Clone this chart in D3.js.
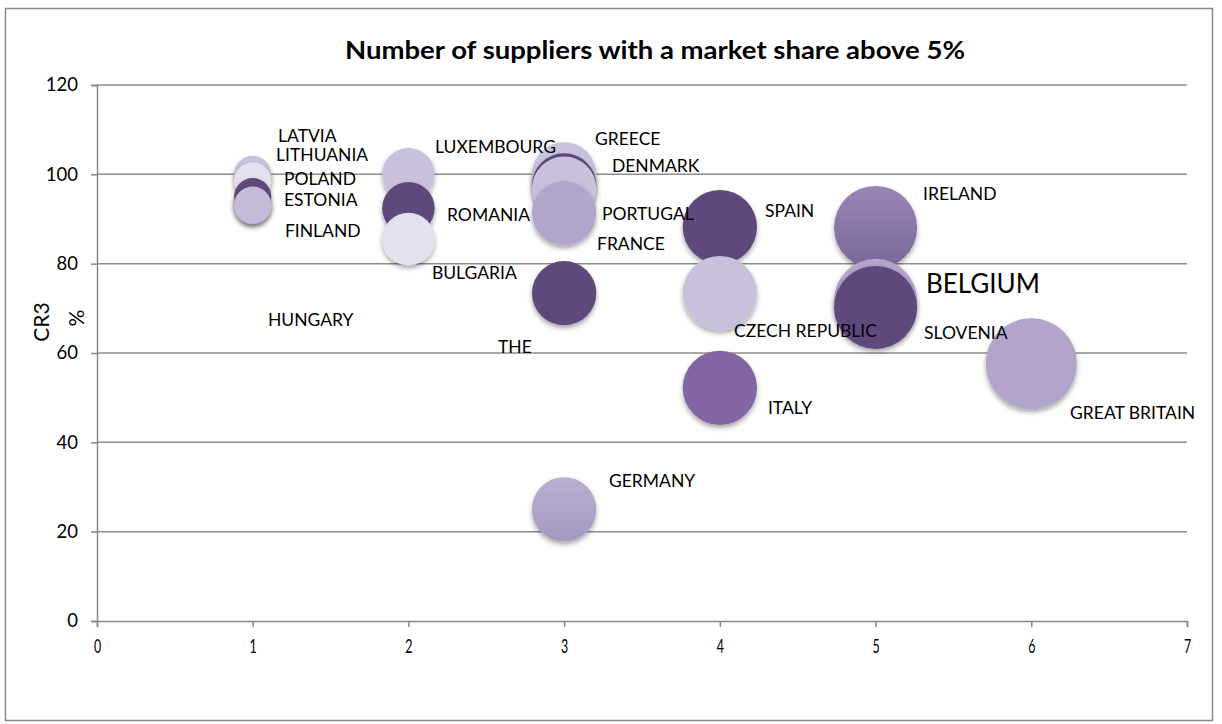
<!DOCTYPE html>
<html>
<head>
<meta charset="utf-8">
<script src="https://cdn.jsdelivr.net/npm/d3@7"></script>
<style>
  html, body { margin: 0; padding: 0; background: #fff; }
  svg { display: block; font-family: Lato, "Open Sans", sans-serif; }
</style>
</head>
<body>
<svg width="1222" height="724"></svg>
<script>
// data
const countries = ['LATVIA', 'LITHUANIA', 'POLAND', 'FINLAND', 'ESTONIA', 'HUNGARY',
  'LUXEMBOURG', 'ROMANIA', 'BULGARIA',
  'GREECE', 'DENMARK', 'FRANCE', 'PORTUGAL', 'THE', 'GERMANY',
  'SPAIN', 'CZECH REPUBLIC', 'ITALY',
  'IRELAND', 'BELGIUM', 'SLOVENIA', 'GREAT BRITAIN'];
const suppliers = [1, 1, 1, 1, 1, 1, 2, 2, 2, 3, 3, 3, 3, 3, 3, 4, 4, 4, 5, 5, 5, 6];
const cr3 = [100, 98.5, 95, 93, 93.1, 67, 100, 92.4, 85.5, 100, 97.5, 96.8, 91.3, 73.4, 25,
  88.2, 73.4, 52.2, 88.1, 71.8, 70.2, 57.6];
// bubble size = number of suppliers (Hungary has no bubble)
const bubbleSize = [1, 1, 1, 1, 1, 0, 2, 2, 2, 3, 3, 3, 3, 3, 3, 4, 4, 4, 5, 5, 5, 6];

// where the data labels sit, in axis units
const labelX = [1.163, 1.15, 1.201, 1.207, 1.201, 1.098, 2.171, 2.248, 2.151,
  3.198, 3.307, 3.211, 3.243, 2.575, 3.288, 4.29, 4.091, 4.309, 5.305, 5.324, 5.311, 6.249];
const labelY = [108.6, 104.3, 98.9, 87.3, 94.2, 67.4, 106.1, 90.9, 77.9,
  107.9, 101.9, 84.4, 91.1, 61.3, 31.3, 91.8, 64.9, 47.7, 95.6, 75.4, 64.5, 46.6];

const xTicks = [0, 1, 2, 3, 4, 5, 6, 7];
const yTicks = [0, 20, 40, 60, 80, 100, 120];

const fills = ['#c9c1dc', '#e4e0ee', '#5f4a7c', '#c5bbd8', '#c5bbd8', 'none',
  '#c9c1dc', '#5f4a7c', '#e4e0ee',
  '#cac2dd', '#5f4a7c', '#c9c1dc', '#b3a6cb', '#5f4a7c', 'url(#gGermany)',
  '#5f4a7c', '#c9c1dc', '#8166a3',
  'url(#gIreland)', '#b2a4ca', '#5f4a7c', '#b2a4ca'];

const svg = d3.select('svg');

const x = d3.scaleLinear().domain([0, 7]).range([97, 1187]);
const y = d3.scaleLinear().domain([0, 120]).range([621, 85]);
const r = d3.scaleSqrt().domain([0, 6]).range([0, 45.5]);

const defs = svg.append('defs');
const shadow = defs.append('filter').attr('id', 'shadow')
  .attr('x', '-30%').attr('y', '-30%').attr('width', '160%').attr('height', '170%');
shadow.append('feDropShadow')
  .attr('dx', 0).attr('dy', 3).attr('stdDeviation', 2.5)
  .attr('flood-color', '#000').attr('flood-opacity', 0.35);

function vGrad(id, top, bottom) {
  const g = defs.append('linearGradient').attr('id', id)
    .attr('x1', 0).attr('y1', 0).attr('x2', 0).attr('y2', 1);
  g.append('stop').attr('offset', '0%').attr('stop-color', top);
  g.append('stop').attr('offset', '100%').attr('stop-color', bottom);
}
vGrad('gIreland', '#9984b8', '#7a6798');
vGrad('gGermany', '#bab0d0', '#a597bf');

// outer frame
svg.append('rect')
  .attr('x', 5.5).attr('y', 8.5).attr('width', 1207).attr('height', 712)
  .attr('fill', 'none').attr('stroke', '#878787').attr('stroke-width', 1.5);

// title
svg.append('text')
  .attr('x', 655).attr('y', 59)
  .attr('text-anchor', 'middle')
  .attr('font-weight', 'bold').attr('font-size', '24px')
  .attr('textLength', 620).attr('lengthAdjust', 'spacingAndGlyphs')
  .attr('fill', '#000')
  .text('Number of suppliers with a market share above 5%');

// gridlines
svg.append('g').selectAll('line').data(yTicks.filter(d => d > 0))
  .enter().append('line')
  .attr('x1', x(0)).attr('x2', x(7))
  .attr('y1', d => y(d)).attr('y2', d => y(d))
  .attr('stroke', '#8c8c8c').attr('stroke-width', 1.5);

// axes
const yAxis = svg.append('g')
  .attr('transform', `translate(${x(0)},0)`)
  .call(d3.axisLeft(y).tickValues(yTicks).tickSize(6).tickPadding(13));
const xAxis = svg.append('g')
  .attr('transform', `translate(0,${y(0)})`)
  .call(d3.axisBottom(x).tickValues(xTicks).tickFormat(d3.format('d'))
    .tickSize(6).tickPadding(12));

[yAxis, xAxis].forEach(a => {
  a.attr('font-family', 'Lato, "Open Sans", sans-serif');
  a.select('.domain').attr('stroke', '#878787').attr('stroke-width', 1.5);
  a.selectAll('.tick line').attr('stroke', '#878787').attr('stroke-width', 1.5);
  a.selectAll('.tick text').attr('fill', '#000').attr('font-size', '18.5px');
});
// x tick labels are squeezed sideways in the original
xAxis.selectAll('.tick text')
  .attr('font-size', '20px')
  .attr('transform', 'scale(0.62,1)');

// y title: "CR3" and "%" as two rotated pieces
svg.append('text')
  .attr('transform', 'translate(42,322) rotate(-90)')
  .attr('text-anchor', 'middle').attr('dy', '0.35em')
  .attr('font-size', '21px').attr('fill', '#000')
  .text('CR3');
svg.append('text')
  .attr('transform', 'translate(77,318) rotate(-90)')
  .attr('text-anchor', 'middle').attr('dy', '0.35em')
  .attr('font-size', '21px').attr('fill', '#000')
  .text('%');

// bubbles, drawn in data order so later ones sit on top
const idx = d3.range(countries.length);
svg.append('g').selectAll('circle')
  .data(idx.filter(i => bubbleSize[i] > 0))
  .enter().append('circle')
  .attr('cx', i => x(suppliers[i]))
  .attr('cy', i => y(cr3[i]))
  .attr('r', i => r(bubbleSize[i]))
  .attr('fill', i => fills[i])
  .attr('filter', 'url(#shadow)');

// data labels
svg.append('g').selectAll('text')
  .data(idx)
  .enter().append('text')
  .attr('x', i => x(labelX[i]))
  .attr('y', i => y(labelY[i]))
  .attr('dy', '0.35em')
  .attr('font-size', i => countries[i] === 'BELGIUM' ? '26px' : '17.5px')
  .attr('fill', '#000')
  .text(i => countries[i]);
</script>
</body>
</html>
